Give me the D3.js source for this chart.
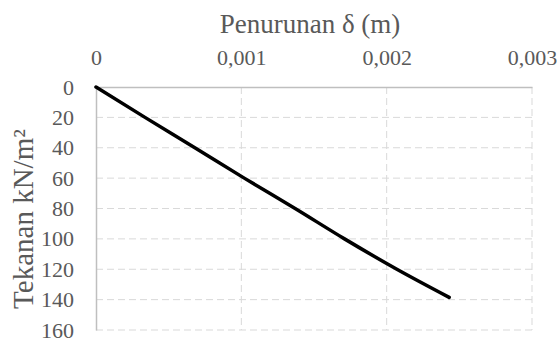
<!DOCTYPE html>
<meta charset="utf-8">
<title>Penurunan vs Tekanan</title>
<style>
  body { margin: 0; background: #fff; font-family: "Liberation Serif", "Times New Roman", serif; }
  .grid line { stroke: #d9d9d9; stroke-width: 1px; stroke-dasharray: 7,4; }
</style>
<script src="https://d3js.org/d3.v7.min.js"></script>
<div id="chart"></div>
<script>
// settlement (m) vs pressure (kN/m2)
var settlement = [0, 0.000337, 0.00068, 0.00102, 0.00137, 0.00171, 0.00207, 0.00243];
var pressure   = [0, 20, 40, 60, 80, 100, 120, 138.5];
var xTicks = [0, 0.001, 0.002, 0.003];
var xTickLabels = ["0", "0,001", "0,002", "0,003"];
var yTicks = [0, 20, 40, 60, 80, 100, 120, 140, 160];

var serif = "'Liberation Serif', 'Times New Roman', serif";
var W = 560, H = 338;
var margin = {top: 87, right: 28, bottom: 8, left: 96};
var width = W - margin.left - margin.right,
    height = H - margin.top - margin.bottom;

var svg = d3.select("#chart").append("svg")
    .attr("width", W).attr("height", H);
var g = svg.append("g")
    .attr("transform", "translate(" + margin.left + "," + margin.top + ")");

var x = d3.scaleLinear().domain([0, 0.003]).range([0, width]);
var y = d3.scaleLinear().domain([0, 160]).range([0, height]);

// dashed grid
g.append("g").attr("class", "grid")
  .selectAll("line.h").data(yTicks.slice(1)).enter().append("line")
    .attr("x1", 0).attr("x2", width)
    .attr("y1", function(d) { return y(d); })
    .attr("y2", function(d) { return y(d); });
g.append("g").attr("class", "grid")
  .selectAll("line.v").data(xTicks.slice(1)).enter().append("line")
    .attr("y1", 0).attr("y2", height)
    .attr("x1", function(d) { return x(d); })
    .attr("x2", function(d) { return x(d); });

// axes: x on top, y on the left
var xAxis = g.append("g")
  .call(d3.axisTop(x).tickValues(xTicks)
    .tickFormat(function(d, i) { return xTickLabels[i]; })
    .tickSize(0).tickPadding(22));
xAxis.select(".domain").attr("stroke", "#bfbfbf").attr("stroke-width", 1.5);

var yAxis = g.append("g")
  .call(d3.axisLeft(y).tickValues(yTicks).tickSize(0).tickPadding(22));
yAxis.select(".domain").attr("stroke", "#bfbfbf").attr("stroke-width", 1.5);

g.selectAll(".tick text").style("font-size", "22px");

// curve
var pts = settlement.map(function(s, i) { return [s, pressure[i]]; });
g.append("path")
  .datum(pts)
  .attr("fill", "none")
  .attr("stroke", "#000")
  .attr("stroke-width", 3.5)
  .attr("stroke-linecap", "round")
  .attr("d", d3.line()
    .x(function(d) { return x(d[0]); })
    .y(function(d) { return y(d[1]); })
    .curve(d3.curveMonotoneX));

// titles
svg.append("text")
  .attr("x", 310)
  .attr("y", 33)
  .attr("text-anchor", "middle")
  .style("font-size", "27px")
  .text("Penurunan δ (m)");

svg.append("text")
  .attr("transform", "translate(33," + 219 + ") rotate(-90)")
  .attr("text-anchor", "middle")
  .style("font-size", "29px")
  .text("Tekanan kN/m²");

svg.selectAll("text")
  .style("font-family", serif)
  .style("fill", "#595959");
</script>
